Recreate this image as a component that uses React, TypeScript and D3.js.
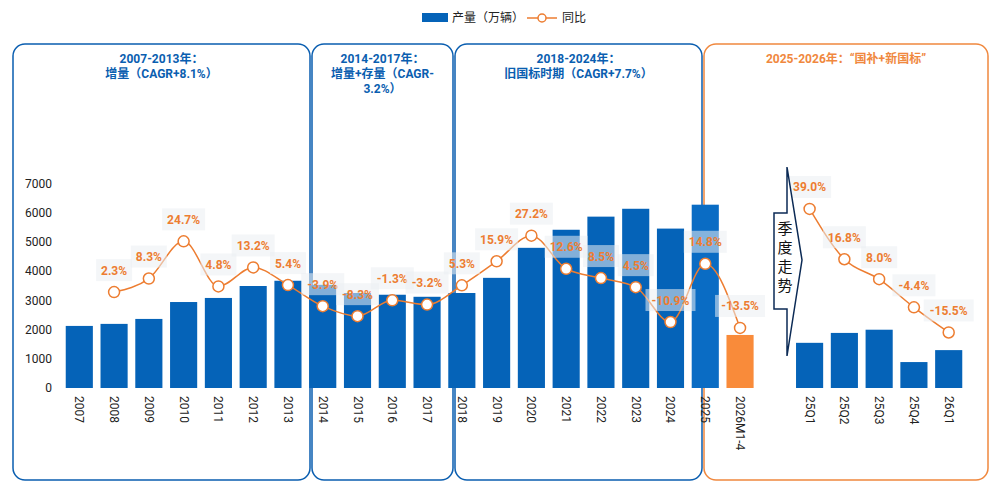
import React from "react";
import * as d3 from "d3";

const categories = ["2007","2008","2009","2010","2011","2012","2013","2014","2015","2016","2017","2018","2019","2020","2021","2022","2023","2024","2025","2026M1-4","","25Q1","25Q2","25Q3","25Q4","26Q1"];
const production = [2130,2200,2370,2950,3090,3500,3680,3540,3260,3200,3130,3260,3780,4810,5430,5880,6150,5470,6290,1820,null,1550,1890,2000,890,1300];
const yoy = [null,2.3,8.3,24.7,4.8,13.2,5.4,-3.9,-8.3,-1.3,-3.2,5.3,15.9,27.2,12.6,8.5,4.5,-10.9,14.8,-13.5,null,39.0,16.8,8.0,-4.4,-15.5];
const yTicks = [0,1000,2000,3000,4000,5000,6000,7000];
const panels = [
  { x0: 13, x1: 310, color: "#0a5eb0", lines: ["2007-2013年：", "增量（CAGR+8.1%）"] },
  { x0: 312, x1: 453, color: "#0a5eb0", lines: ["2014-2017年：", "增量+存量（CAGR-", "3.2%）"] },
  { x0: 455, x1: 702, color: "#0a5eb0", lines: ["2018-2024年：", "旧国标时期（CAGR+7.7%）"] },
  { x0: 704, x1: 988, color: "#f0883e", lines: ["2025-2026年：“国补+新国标”"] },
];

export default function App() {
  const W = 1000, H = 494;
  const x = d3.scaleBand<string>().domain(categories.map((c, i) => c + "_" + i)).range([64, 964]).paddingInner(0.22).paddingOuter(0.05);
  const y = d3.scaleLinear().domain([0, 7000]).range([388, 184]);
  const yp = d3.scaleLinear().domain([-40, 50]).range([388, 184]);
  const key = (i: number) => categories[i] + "_" + i;
  const cx = (i: number) => (x(key(i)) as number) + x.bandwidth() / 2;
  const font = "Roboto, 'Noto Sans CJK SC', sans-serif";
  const orange = "#ed7d31";
  const seg1 = yoy.map((v, i) => ({ v, i })).filter(d => d.v !== null && d.i <= 19);
  const seg2 = yoy.map((v, i) => ({ v, i })).filter(d => d.v !== null && d.i >= 21);
  const line = d3.line<{ v: number | null; i: number }>().x(d => cx(d.i)).y(d => yp(d.v as number)).curve(d3.curveMonotoneX);
  const barColor = (i: number) => (i === 19 ? "#f98b3a" : i === 18 ? "#0a6cc4" : "#0563b8");
  return (
    <svg width={W} height={H} style={{ display: "block", position: "absolute", left: 0, top: 0, background: "#fff" }} fontFamily={font}>
      <rect x={422} y={13} width={26} height={9} fill="#0563b8" />
      <text x={452} y={22} fontSize={12} fill="#222">产量（万辆）</text>
      <line x1={527} x2={557} y1={18} y2={18} stroke={orange} strokeWidth={1.5} />
      <circle cx={542} cy={18} r={4} fill="#fff" stroke={orange} strokeWidth={1.5} />
      <text x={562} y={22} fontSize={12} fill="#222">同比</text>
      {panels.map((p, k) => (
        <g key={k}>
          <rect x={p.x0} y={44} width={p.x1 - p.x0} height={436} rx={12} fill="none" stroke={p.color} strokeWidth={1.5} />
          {p.lines.map((t, j) => (
            <text key={j} x={(p.x0 + p.x1) / 2} y={63 + j * 15} textAnchor="middle" fontSize={12} fontWeight="bold" fill={k === 3 ? "#f0883e" : "#0a5eb0"}>{t}</text>
          ))}
        </g>
      ))}
      {yTicks.map(t => (
        <text key={t} x={52} y={y(t) + 4} textAnchor="end" fontSize={12} fill="#222">{t}</text>
      ))}
      {production.map((v, i) => v === null ? null : (
        <rect key={i} x={x(key(i)) as number} y={y(v)} width={x.bandwidth()} height={y(0) - y(v)} fill={barColor(i)} />
      ))}
      {categories.map((c, i) => c === "" ? null : (
        <text key={i} transform={`translate(${cx(i) - 4},${396}) rotate(90)`} fontSize={12} fill="#222">{c}</text>
      ))}
      <path d={line(seg1) as string} fill="none" stroke={orange} strokeWidth={1.5} />
      <path d={line(seg2) as string} fill="none" stroke={orange} strokeWidth={1.5} />
      {[...seg1, ...seg2].map(d => (
        <circle key={d.i} cx={cx(d.i)} cy={yp(d.v as number)} r={5.5} fill="#fff" stroke={orange} strokeWidth={1.5} />
      ))}
      {[...seg1, ...seg2].map(d => {
        const t = (d.v as number).toFixed(1) + "%";
        const ly = yp(d.v as number) - 22;
        const w = t.length * 7 + 8;
        return (
          <g key={"l" + d.i}>
            <rect x={cx(d.i) - w / 2} y={ly - 11} width={w} height={22} fill="rgba(235,238,242,0.55)" />
            <text x={cx(d.i)} y={ly + 4.5} textAnchor="middle" fontSize={12} fontWeight="bold" fill={orange}>{t}</text>
          </g>
        );
      })}
      <path d="M774,213 L787,213 L787,167 L802,260 L787,356 L787,309 L774,309 Z" fill="#fff" stroke="#0b2a55" strokeWidth={1.5} />
      {["季", "度", "走", "势"].map((c, j) => (
        <text key={c} x={785} y={234 + j * 19} textAnchor="middle" fontSize={15} fill="#111">{c}</text>
      ))}
    </svg>
  );
}
